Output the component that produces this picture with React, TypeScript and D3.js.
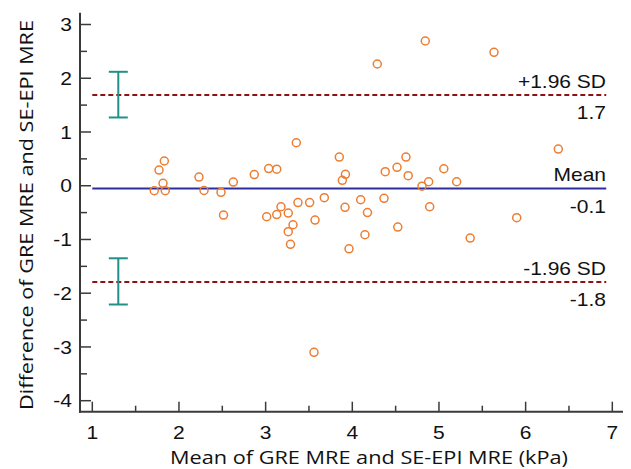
import React from "react";
import * as d3 from "d3";

const meanX: number[] = [1.715,1.770,1.831,1.816,1.842,2.231,2.289,2.485,2.514,2.627,2.869,3.035,3.128,3.354,3.012,3.128,3.177,3.261,3.373,3.508,3.677,3.570,3.316,3.261,3.287,3.850,3.921,3.885,3.916,4.097,4.175,4.146,3.962,4.380,4.516,4.619,4.645,4.366,4.525,4.804,4.881,5.056,5.204,4.893,5.360,4.288,4.842,5.635,6.377,5.897,3.558];
const diffY: number[] = [-0.093,0.292,0.460,0.045,-0.093,0.162,-0.089,-0.123,-0.545,0.069,0.208,0.320,0.307,0.800,-0.577,-0.536,-0.391,-0.508,-0.313,-0.313,-0.223,-0.638,-0.726,-0.856,-1.090,0.534,0.212,0.100,-0.402,-0.261,-0.499,-0.912,-1.174,0.261,0.342,0.534,0.186,-0.234,-0.769,-0.009,0.074,0.316,0.074,-0.391,-0.973,2.265,2.693,2.482,0.683,-0.595,-3.100];

const refValues: number[] = [1.69, -0.05, -1.79];
const refTopLabels: string[] = ["+1.96 SD", "Mean", "-1.96 SD"];
const refBottomLabels: string[] = ["1.7", "-0.1", "-1.8"];
const refKinds: string[] = ["sd", "mean", "sd"];

const ciX = 1.3;
const ciRanges: [number, number][] = [[1.27, 2.12], [-2.21, -1.35]];

const xTicks: number[] = [1, 2, 3, 4, 5, 6, 7];
const yTicks: number[] = [-4, -3, -2, -1, 0, 1, 2, 3];

const xTitle = "Mean of GRE MRE and SE-EPI MRE (kPa)";
const yTitle = "Difference of GRE MRE and SE-EPI MRE";

const tickFont = "'Liberation Sans', Arial, sans-serif";
const titleFont = "'Open Sans', 'Noto Sans', sans-serif";

function Label({ x, y, anchor, children }: { x: number; y: number; anchor: string; children: React.ReactNode }) {
  return (
    <text transform={`translate(${x},${y}) scale(1.05,0.94)`} textAnchor={anchor}
      fontFamily={tickFont} fontSize={20} fill="#111">{children}</text>
  );
}

export default function App() {
  const W = 631, H = 469;
  const x = d3.scaleLinear().domain([1, 7]).range([92.3, 612.3]);
  const y = d3.scaleLinear().domain([-4, 3]).range([400.7, 24.5]);
  const axisX = 80;
  const axisY = 411.7;
  const axisColor = "#3a3a3a";
  const xMinor = d3.range(1.5, 7, 1);
  const yMinor = d3.range(-3.5, 3, 1);

  return (
    <svg width={W} height={H} style={{ position: "absolute", left: 0, top: 0, background: "#fff" }}>
      <rect width={W} height={H} fill="#fff" />
      {refValues.map((v, i) => (
        <g key={"ref" + i}>
          <line x1={x(1)} x2={x(6.93)} y1={y(v)} y2={y(v)}
            stroke={refKinds[i] === "mean" ? "#2e2e9e" : "#8b1414"}
            strokeWidth={2}
            strokeDasharray={refKinds[i] === "mean" ? undefined : "5,3"} />
          <Label x={606} y={y(v) - 7} anchor="end">{refTopLabels[i]}</Label>
          <Label x={606} y={y(v) + 24.5} anchor="end">{refBottomLabels[i]}</Label>
        </g>
      ))}
      {ciRanges.map((r, i) => (
        <g key={"ci" + i} stroke="#1f9189" strokeWidth={2}>
          <line x1={x(ciX)} x2={x(ciX)} y1={y(r[0])} y2={y(r[1])} />
          <line x1={x(ciX) - 9.5} x2={x(ciX) + 9.5} y1={y(r[0])} y2={y(r[0])} />
          <line x1={x(ciX) - 9.5} x2={x(ciX) + 9.5} y1={y(r[1])} y2={y(r[1])} />
        </g>
      ))}
      {meanX.map((mx, i) => (
        <circle key={"p" + i} cx={x(mx)} cy={y(diffY[i])} r={4} fill="none" stroke="#ed7d31" strokeWidth={1.5} />
      ))}
      <g stroke={axisColor} strokeWidth={2}>
        <line x1={axisX} x2={axisX} y1={12.7} y2={axisY + 1} />
        <line x1={axisX - 1} x2={623} y1={axisY} y2={axisY} />
        {yTicks.map((t) => (
          <line key={"yt" + t} x1={axisX} x2={axisX + 11} y1={y(t)} y2={y(t)} strokeWidth={1.5} />
        ))}
        {yMinor.map((t) => (
          <line key={"ym" + t} x1={axisX} x2={axisX + 7} y1={y(t)} y2={y(t)} strokeWidth={1.5} />
        ))}
        {xTicks.map((t) => (
          <line key={"xt" + t} x1={x(t)} x2={x(t)} y1={axisY} y2={axisY - 10} strokeWidth={1.5} />
        ))}
        {xMinor.map((t) => (
          <line key={"xm" + t} x1={x(t)} x2={x(t)} y1={axisY} y2={axisY - 6} strokeWidth={1.5} />
        ))}
      </g>
      {yTicks.map((t) => (
        <Label key={"yl" + t} x={72} y={y(t) + 6.7} anchor="end">{t}</Label>
      ))}
      {xTicks.map((t) => (
        <Label key={"xl" + t} x={x(t)} y={438.5} anchor="middle">{t}</Label>
      ))}
      <text x={369} y={464} textAnchor="middle" fontFamily={titleFont} fontSize={19} fill="#111"
        textLength={398} lengthAdjust="spacingAndGlyphs">{xTitle}</text>
      <text transform={`translate(32.5, 215) rotate(-90)`} textAnchor="middle" fontFamily={titleFont} fontSize={19} fill="#111"
        textLength={390} lengthAdjust="spacingAndGlyphs">{yTitle}</text>
    </svg>
  );
}
